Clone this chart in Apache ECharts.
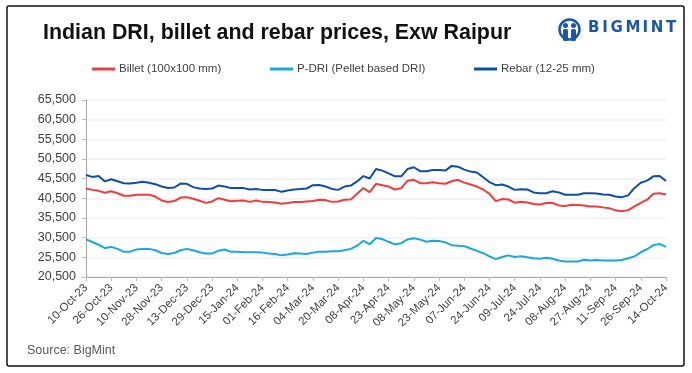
<!DOCTYPE html>
<html><head><meta charset="utf-8">
<script src="https://cdn.jsdelivr.net/npm/echarts@6/dist/echarts.min.js"></script>
<style>html,body{margin:0;padding:0;background:#fff}#c{width:692px;height:373px}</style>
</head><body><div id="c"></div>
<script>
const tickLabels = ['10-Oct-23','26-Oct-23','10-Nov-23','28-Nov-23','13-Dec-23','29-Dec-23','15-Jan-24','01-Feb-24','16-Feb-24','04-Mar-24','20-Mar-24','08-Apr-24','23-Apr-24','08-May-24','23-May-24','07-Jun-24','24-Jun-24','09-Jul-24','24-Jul-24','08-Aug-24','27-Aug-24','11-Sep-24','26-Sep-24','14-Oct-24'];
const pointsPerLabel = 4;

const billet = [43000,42650,42400,41900,42300,41800,41150,41150,41400,41400,41400,40950,39950,39550,39800,40700,40800,40400,39900,39350,39700,40550,40150,39750,
39900,39950,39600,39950,39600,39550,39450,39100,39300,39550,39550,39700,39800,40150,40050,39600,39700,40150,40200,41650,43100,42100,44200,
43850,43500,42750,43100,45000,45200,44350,44350,44600,44350,44200,44850,45200,44500,44000,43500,42750,41650,39800,40300,40200,39400,39650,
39450,39050,38950,39300,39300,38700,38550,38850,38800,38700,38450,38450,38200,38000,37450,37200,37500,38450,39350,40150,41650,41800,41500];

const pdri = [30050,29400,28700,27850,28150,27650,26900,26950,27500,27650,27650,27300,26600,26350,26600,27300,27650,27300,26800,26450,26450,27200,27500,26900,
26900,26800,26800,26800,26700,26450,26350,26000,26200,26550,26450,26350,26700,26950,26950,27050,27050,27300,27650,28450,29700,28850,30400,
30150,29450,28800,29100,30050,30350,30000,29450,29700,29650,29300,28600,28450,28350,27750,27150,26550,25750,25050,25600,26000,25600,25750,
25500,25250,25150,25400,25150,24700,24450,24450,24450,24900,24700,24800,24700,24700,24700,24800,25250,25750,26800,27550,28600,28900,28150];

const rebar = [46450,45950,46200,44800,45350,44850,44350,44250,44450,44700,44450,44100,43500,43150,43250,44250,44200,43350,43000,42900,43000,43750,43500,43100,
43100,43100,42750,42900,42650,42650,42600,42150,42500,42750,42850,43000,43850,43900,43500,42900,42650,43500,43750,44800,46150,45550,47950,
47550,46850,46100,46100,47950,48400,47400,47400,47700,47700,47550,48750,48550,47800,47300,47050,45850,44600,43850,44000,43500,42650,42800,
42750,42000,41800,41800,42300,42000,41400,41400,41400,41800,41800,41750,41500,41400,40950,40800,41250,43150,44450,45000,46100,46200,44900];

const seriesNames = ['Billet (100x100 mm)','P-DRI (Pellet based DRI)','Rebar (12-25 mm)'];
const yMin = 20500, yMax = 65500, yStep = 5000;
const logoText = 'BIGMINT';

const chart = echarts.init(document.getElementById('c'), null, {renderer:'canvas'});
const toXY = arr => arr.map((v,i)=>[i,v]);
const legendBase = {top: 63, itemWidth: 23, itemHeight: 3, icon: 'rect', textStyle:{fontFamily:'Liberation Sans', fontSize: 11.5, color:'#404040', padding:[0,0,0,-1]}, itemGap: 0, padding: 0};

// logo letters laid out with letter spacing
const logoLetters = [];
(function(){
  const widths = {B:11.6,I:5.6,G:12.4,M:14.6,N:12.6,T:10.6};
  let x = 588;
  for (const ch of logoText) {
    logoLetters.push({type:'text', left: x, top: 21, style:{text: ch, font:'bold 15px "DejaVu Sans"', fill:'#1a57a8'}});
    x += widths[ch] + 2.6;
  }
})();

chart.setOption({
  animation: false,
  textStyle: {fontFamily: 'Liberation Sans'},
  grid: {left: 86, right: 26, top: 100, bottom: 96, containLabel: false},
  legend: [
    Object.assign({}, legendBase, {left: 92, data: [seriesNames[0]]}),
    Object.assign({}, legendBase, {left: 270, data: [seriesNames[1]]}),
    Object.assign({}, legendBase, {left: 474, data: [seriesNames[2]]})
  ],
  xAxis: {
    type: 'value', min: 0, max: (tickLabels.length-1)*pointsPerLabel, interval: pointsPerLabel,
    splitLine: {show:false},
    axisLine: {lineStyle:{color:'#a6a6a6', width:1}},
    axisTick: {show:true, length:4, lineStyle:{color:'#bfbfbf'}},
    axisLabel: {rotate: 45, margin: 9, fontSize: 11.5, color:'#404040',
      formatter: v => tickLabels[Math.round(v/pointsPerLabel)] || ''}
  },
  yAxis: {
    type: 'value', min: yMin, max: yMax, interval: yStep,
    axisLine: {show:true, lineStyle:{color:'#a6a6a6'}},
    axisTick: {show:true, length:4, lineStyle:{color:'#bfbfbf'}},
    splitLine: {lineStyle:{color:'#efefef', width:1.5}},
    axisLabel: {margin: 10, fontSize: 12.5, color:'#404040',
      formatter: v => v.toLocaleString('en-US')}
  },
  series: [
    {name: seriesNames[0], type:'line', data: toXY(billet), showSymbol:false, color:'#f03c3c', lineStyle:{width:2}},
    {name: seriesNames[1], type:'line', data: toXY(pdri), showSymbol:false, color:'#1aa6e2', lineStyle:{width:2}},
    {name: seriesNames[2], type:'line', data: toXY(rebar), showSymbol:false, color:'#0e4fa5', lineStyle:{width:2}}
  ],
  graphic: [
    {type:'rect', shape:{x:7, y:6, width:677, height:360, r:2}, style:{fill:'none', stroke:'#111', lineWidth:1.5}, silent:true},
    {type:'text', left: 43, top: 23, style:{text:'Indian DRI, billet and rebar prices, Exw Raipur', font:'bold 21.4px "Liberation Sans"', fill:'#111'}},
    {type:'group', left: 557, top: 17, children: [
      {type:'circle', shape:{cx:11, cy:11, r:10}, style:{fill:'none', stroke:'#1a57a8', lineWidth:2.5}},
      {type:'circle', shape:{cx:7, cy:7, r:2.5}, style:{fill:'#1a57a8'}},
      {type:'circle', shape:{cx:15, cy:7, r:2.5}, style:{fill:'#1a57a8'}},
      {type:'rect', shape:{x:4.5, y:10.5, width:5, height:12, r:1.5}, style:{fill:'#1a57a8'}},
      {type:'rect', shape:{x:12.5, y:10.5, width:5, height:12, r:1.5}, style:{fill:'#1a57a8'}}
    ]}
  ].concat(logoLetters).concat([
    {type:'text', left: 27, top: 344, style:{text:'Source: BigMint', font:'12.5px "Liberation Sans"', fill:'#595959'}}
  ])
});
</script></body></html>
